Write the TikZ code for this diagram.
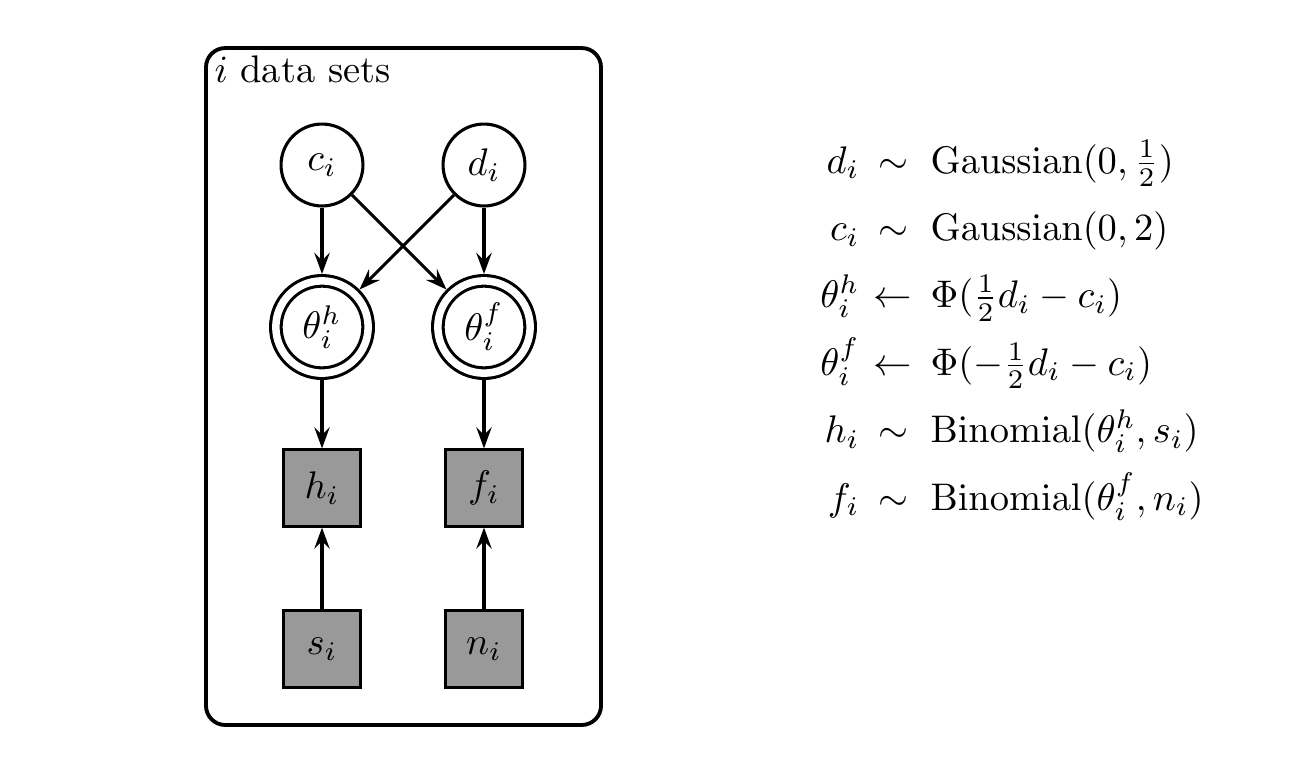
\documentclass[tikz,border=0pt]{standalone}
\usepackage{amsmath}
\usetikzlibrary{positioning,arrows.meta}

\begin{document}
\begin{tikzpicture}[>={Stealth[length=5.5pt,width=4pt,inset=2pt]},x=.26pt,y=-.26pt,thick,
	latent/.style={circle,draw,minimum size=21.3pt,inner sep=0pt},
	determ/.style={circle,draw,double,double distance=1.95pt,minimum size=24pt,inner sep=0pt,outer sep=1.78pt},
	observed/.style={rectangle,draw,fill=black!40,minimum size=19.8pt,inner sep=0pt},
	eqn/.style={inner sep=0pt}]
\useasboundingbox (0,0) rectangle (1290,760);

%% plaque "i data sets"
\node[draw,line width=1pt,rounded corners=5pt,minimum width=102.7pt,minimum height=176pt] (plate) at (403.5,386.5) {};
\node[anchor=base west,inner sep=0pt] (platelabel) at (213,82) {$i$ data sets};

\node[latent] (c) at (322,165) {$c_i$};
\node[latent] (d) at (484,165) {$d_i$};
\node[determ] (th) at (322,327) {$\theta_i^h$};
\node[determ] (tf) at (484,327) {$\theta_i^f$};
\node[observed] (h) at (322,488) {$h_i$};
\node[observed] (f) at (484,488) {$f_i$};
\node[observed] (s) at (322,649) {$s_i$};
\node[observed] (n) at (484,649) {$n_i$};

\draw[->] (c)--(th);
\draw[->] (c)--(tf);
\draw[->] (d)--(th);
\draw[->] (d)--(tf);
\draw[->] (th)--(h);
\draw[->] (tf)--(f);
\draw[->] (s)--(h);
\draw[->] (n)--(f);

%% les lois, alignées sur la relation
\node[eqn,anchor=base east] (l1) at (861,173) {$d_i$};
\node[eqn,anchor=base] (r1) at (893,173) {$\sim$};
\node[eqn,anchor=base west] (e1) at (929,173) {$\mathrm{Gaussian}(0,\frac{1}{2})$};
\node[eqn,anchor=base east] (l2) at (861,240.4) {$c_i$};
\node[eqn,anchor=base] (r2) at (893,240.4) {$\sim$};
\node[eqn,anchor=base west] (e2) at (929,240.4) {$\mathrm{Gaussian}(0,2)$};
\node[eqn,anchor=base east] (l3) at (861,307.8) {$\theta_i^h$};
\node[eqn,anchor=base] (r3) at (893,307.8) {$\leftarrow$};
\node[eqn,anchor=base west] (e3) at (929,307.8) {$\Phi(\frac{1}{2}d_i-c_i)$};
\node[eqn,anchor=base east] (l4) at (861,375.2) {$\theta_i^f$};
\node[eqn,anchor=base] (r4) at (893,375.2) {$\leftarrow$};
\node[eqn,anchor=base west] (e4) at (929,375.2) {$\Phi(-\frac{1}{2}d_i-c_i)$};
\node[eqn,anchor=base east] (l5) at (861,442.6) {$h_i$};
\node[eqn,anchor=base] (r5) at (893,442.6) {$\sim$};
\node[eqn,anchor=base west] (e5) at (929,442.6) {$\mathrm{Binomial}(\theta_i^h,s_i)$};
\node[eqn,anchor=base east] (l6) at (861,510) {$f_i$};
\node[eqn,anchor=base] (r6) at (893,510) {$\sim$};
\node[eqn,anchor=base west] (e6) at (929,510) {$\mathrm{Binomial}(\theta_i^f,n_i)$};
\end{tikzpicture}
\end{document}
